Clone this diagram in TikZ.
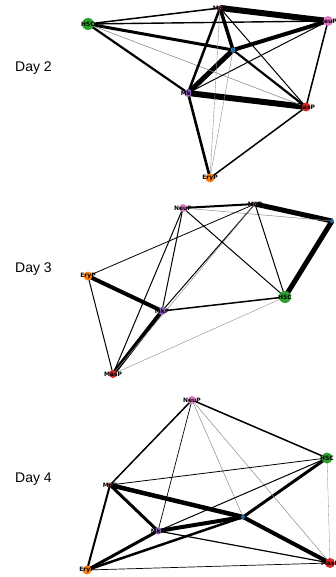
\documentclass[tikz,border=0pt]{standalone}
\usepackage{fontspec}
\setmainfont{Liberation Sans}
\newfontfamily\lblfont{DejaVu Sans}
\pgfdeclarelayer{background}
\pgfsetlayers{background,main}
\definecolor{tblue}{HTML}{1F77B4}
\definecolor{torange}{HTML}{FF7F0E}
\definecolor{tgreen}{HTML}{2CA02C}
\definecolor{tred}{HTML}{D62728}
\definecolor{tpurple}{HTML}{9467BD}
\definecolor{tbrown}{HTML}{8C564B}
\definecolor{tpink}{HTML}{E377C2}
\tikzset{
  nd/.style 2 args={circle, fill=#1, draw=none, inner sep=0pt, minimum size=#2},
  lbl/.style={font=\lblfont\bfseries\fontsize{6}{6}\selectfont, text=black, inner sep=0pt},
  bllbl/.style={lbl, text=tblue!50!black, font=\lblfont\fontsize{5}{5}\selectfont},
  daylbl/.style={font=\fontsize{14}{16}\selectfont, anchor=base west, inner sep=0pt},
  ed/.style={draw=black, line width=#1},
  eg/.style={draw=black!45, line width=#1},
}
\begin{document}
\begin{tikzpicture}[x=1pt,y=-1pt]
\useasboundingbox (0,0) rectangle (335,577);
\clip (0,0) rectangle (335,577);
% ---------------- Day 2 ----------------
\node[daylbl] (d2) at (15,72) {Day 2};
\node[nd={tgreen}{12pt}] (hsc2) at (88,24) {};
\node[nd={tbrown}{5pt}] (mop2) at (220,8) {};
\node[nd={tpink}{10pt}] (neu2) at (328,21) {};
\node[nd={tblue}{5pt}] (bl2) at (233,50) {};
\node[nd={tpurple}{8pt}] (mk2) at (188,93) {};
\node[nd={tred}{9pt}] (mas2) at (306,107) {};
\node[nd={torange}{9pt}] (ery2) at (210,178) {};
\node[lbl] at (hsc2) {HSC};
\node[lbl] at (mop2) {MoP};
\node[lbl] at (neu2) {NeuP};
\node[bllbl] at (bl2) {l};
\node[lbl] at (mk2) {MkP};
\node[lbl] at (mas2) {MasP};
\node[lbl] at (ery2) {EryP};
\begin{pgfonlayer}{background}
\draw[ed=6] (mop2.center) -- (neu2.center);
\draw[ed=6] (mk2.center) -- (mas2.center);
\draw[ed=5] (mk2.center) -- (bl2.center);
\draw[ed=4] (bl2.center) -- (neu2.center);
\draw[ed=3.5] (mop2.center) -- (bl2.center);
\draw[ed=3] (hsc2.center) -- (bl2.center);
\draw[ed=2.2] (hsc2.center) -- (mk2.center);
\draw[ed=1.5] (hsc2.center) -- (mop2.center);
\draw[ed=1.4] (hsc2.center) -- (neu2.center);
\draw[eg=0.6] (hsc2.center) -- (mas2.center);
\draw[ed=2.5] (mop2.center) -- (mk2.center);
\draw[ed=1] (mop2.center) -- (mas2.center);
\draw[ed=2.2] (bl2.center) -- (mas2.center);
\draw[ed=1] (mk2.center) -- (neu2.center);
\draw[ed=1.5] (neu2.center) -- (mas2.center);
\draw[ed=2.6] (mk2.center) -- (ery2.center);
\draw[ed=1.5] (ery2.center) -- (mas2.center);
\draw[eg=0.4] (mop2.center) -- (ery2.center);
\draw[eg=0.4] (bl2.center) -- (ery2.center);
\end{pgfonlayer}
% ---------------- Day 3 ----------------
\node[daylbl] (d3) at (15,272) {Day 3};
\node[nd={tpink}{8pt}] (neu3) at (183,208) {};
\node[nd={tbrown}{5pt}] (mop3) at (255,204) {};
\node[nd={tblue}{4pt}] (bl3) at (332,221) {};
\node[nd={torange}{9pt}] (ery3) at (88,276) {};
\node[nd={tpurple}{8pt}] (mk3) at (162,311) {};
\node[nd={tgreen}{12pt}] (hsc3) at (285,297) {};
\node[nd={tred}{8pt}] (mas3) at (113,374) {};
\node[lbl] at (neu3) {NeuP};
\node[lbl] at (mop3) {MoP};
\node[bllbl] at (bl3) {l};
\node[lbl] at (ery3) {EryP};
\node[lbl] at (mk3) {MkP};
\node[lbl] at (hsc3) {HSC};
\node[lbl] at (mas3) {MasP};
\begin{pgfonlayer}{background}
\draw[ed=5] (mop3.center) -- (bl3.center);
\draw[ed=5] (bl3.center) -- (hsc3.center);
\draw[ed=4] (ery3.center) -- (mk3.center);
\draw[ed=4] (mk3.center) -- (mas3.center);
\draw[ed=2] (neu3.center) -- (mop3.center);
\draw[eg=0.5] (neu3.center) -- (bl3.center);
\draw[ed=0.8] (mop3.center) -- (ery3.center);
\draw[ed=1] (mop3.center) -- (mk3.center);
\draw[eg=0.5] (mop3.center) -- (mas3.center);
\draw[ed=1] (mop3.center) -- (hsc3.center);
\draw[ed=1] (neu3.center) -- (hsc3.center);
\draw[ed=1] (neu3.center) -- (mk3.center);
\draw[ed=1] (neu3.center) -- (mas3.center);
\draw[ed=1.5] (mk3.center) -- (hsc3.center);
\draw[eg=0.4] (mas3.center) -- (hsc3.center);
\draw[ed=1] (ery3.center) -- (mas3.center);
\end{pgfonlayer}
% ---------------- Day 4 ----------------
\node[daylbl] (d4) at (15,482) {Day 4};
\node[nd={tpink}{8pt}] (neu4) at (192,400) {};
\node[nd={tgreen}{11pt}] (hsc4) at (327,458) {};
\node[nd={tbrown}{5pt}] (mop4) at (110,485) {};
\node[nd={tblue}{4pt}] (bl4) at (243,517) {};
\node[nd={tpurple}{7pt}] (mk4) at (158,531) {};
\node[nd={torange}{9pt}] (ery4) at (87,570) {};
\node[nd={tred}{10pt}] (mas4) at (330,563) {};
\node[lbl] at (neu4) {NeuP};
\node[lbl] at (hsc4) {HSC};
\node[lbl] at (mop4) {MoP};
\node[bllbl] at (bl4) {l};
\node[lbl] at (mk4) {MkP};
\node[lbl] at (ery4) {EryP};
\node[lbl] at (mas4) {MasP};
\begin{pgfonlayer}{background}
\draw[ed=4.5] (mop4.center) -- (bl4.center);
\draw[ed=3] (mop4.center) -- (mk4.center);
\draw[ed=4] (mk4.center) -- (bl4.center);
\draw[ed=3] (bl4.center) -- (hsc4.center);
\draw[ed=4] (bl4.center) -- (mas4.center);
\draw[ed=3] (ery4.center) -- (mk4.center);
\draw[ed=2.5] (ery4.center) -- (bl4.center);
\draw[ed=2] (ery4.center) -- (mop4.center);
\draw[ed=1.5] (neu4.center) -- (mop4.center);
\draw[ed=1.5] (neu4.center) -- (hsc4.center);
\draw[ed=0.7] (neu4.center) -- (mk4.center);
\draw[eg=0.5] (neu4.center) -- (bl4.center);
\draw[eg=0.5] (neu4.center) -- (mas4.center);
\draw[ed=0.8] (mop4.center) -- (hsc4.center);
\draw[ed=1] (mk4.center) -- (hsc4.center);
\draw[ed=1.2] (mk4.center) -- (mas4.center);
\draw[ed=0.7] (ery4.center) -- (mas4.center);
\draw[eg=0.3] (hsc4.center) -- (mas4.center);
\end{pgfonlayer}
\end{tikzpicture}
\end{document}
